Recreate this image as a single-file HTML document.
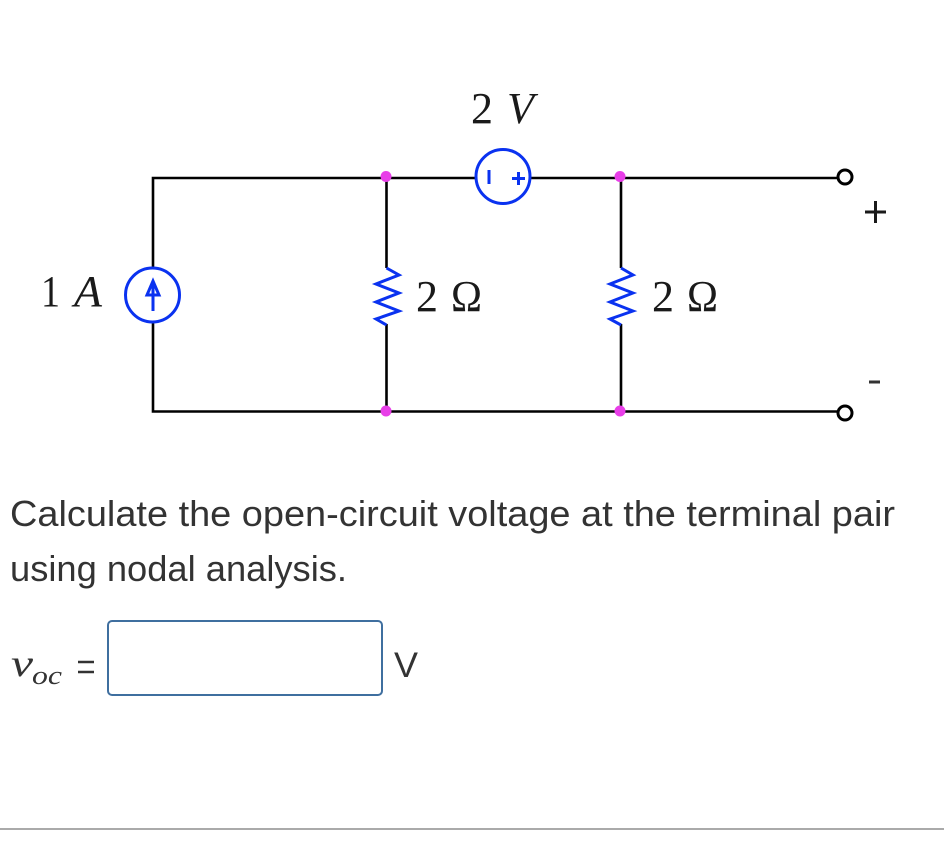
<!DOCTYPE html>
<html>
<head>
<meta charset="utf-8">
<style>
html,body{margin:0;padding:0;background:#fff;width:944px;height:868px;overflow:hidden}
svg{display:block}
.s{font-family:"Liberation Serif",serif;fill:#1a1a1a;font-size:44px}
.i{font-style:italic}
.t{font-family:"Liberation Sans",sans-serif;fill:#333;font-size:36px}
</style>
</head>
<body>
<svg width="944" height="868" viewBox="0 0 944 868" xmlns="http://www.w3.org/2000/svg">
<rect width="944" height="868" fill="#fff"/>
<g fill="none" stroke="#000" stroke-width="2.600">
<path d="M153 268V178H476M530 178H838"/>
<path d="M153 322V411.500H838"/>
<path d="M386.500 178V268M386.500 324V411"/>
<path d="M621 178V268M621 324V411"/>
<circle cx="845" cy="177" r="7" stroke-width="3"/>
<circle cx="845" cy="413" r="7" stroke-width="3"/>
</g>
<g fill="#e83ee8">
<circle cx="386" cy="176.500" r="5.500"/>
<circle cx="620" cy="176.500" r="5.500"/>
<circle cx="386" cy="411" r="5.500"/>
<circle cx="620" cy="411" r="5.500"/>
</g>
<g fill="none" stroke="#0a32f0" stroke-width="3">
<circle cx="152.500" cy="295" r="27"/>
<circle cx="503" cy="176.500" r="27"/>
<path d="M386.500 268L399 275L376 284L399 293L376 302L399 311L376 319L386.500 325"/>
<path d="M621 268L633 275L610 284L633 293L610 302L633 311L610 319L621 325"/>
<path d="M153 311V281M147 295L153 281L159 295Z"/>
<path d="M489 170V184M512 178.500H525M518.500 172V185"/>
</g>
<text class="s" x="471" y="123" textLength="22" lengthAdjust="spacingAndGlyphs">2</text>
<text class="s i" x="507" y="123" textLength="27" lengthAdjust="spacingAndGlyphs">V</text>
<text class="s" x="41" y="306" textLength="19" lengthAdjust="spacingAndGlyphs">1</text>
<text class="s i" x="74" y="306" textLength="28" lengthAdjust="spacingAndGlyphs">A</text>
<text class="s" x="416" y="311" textLength="22" lengthAdjust="spacingAndGlyphs">2</text>
<text class="s" x="451" y="311" textLength="31" lengthAdjust="spacingAndGlyphs">Ω</text>
<text class="s" x="652" y="311" textLength="22" lengthAdjust="spacingAndGlyphs">2</text>
<text class="s" x="687" y="311" textLength="31" lengthAdjust="spacingAndGlyphs">Ω</text>
<path d="M865 212H886M875.500 201V223" stroke="#1a1a1a" stroke-width="3" fill="none"/>
<path d="M869 382H880" stroke="#333" stroke-width="3" fill="none"/>
<text class="t" x="10" y="526" textLength="885" lengthAdjust="spacingAndGlyphs">Calculate the open-circuit voltage at the terminal pair</text>
<text class="t" x="10" y="581" textLength="337" lengthAdjust="spacingAndGlyphs">using nodal analysis.</text>
<text x="11" y="676" font-family="Liberation Serif, serif" font-style="italic" font-size="38" fill="#333" textLength="22" lengthAdjust="spacingAndGlyphs">v</text>
<text x="32" y="684" font-family="Liberation Serif, serif" font-style="italic" font-size="26" fill="#333" textLength="30" lengthAdjust="spacingAndGlyphs">oc</text>
<path d="M78 662H94M78 672H94" stroke="#333" stroke-width="2.600" fill="none"/>
<rect x="108" y="621" width="274" height="74" rx="4" ry="4" fill="#fff" stroke="#3f6f9f" stroke-width="2"/>
<text x="394" y="677" font-family="Liberation Sans, sans-serif" font-size="35" fill="#333" textLength="24" lengthAdjust="spacingAndGlyphs">V</text>
<rect x="0" y="828" width="944" height="2" fill="#aaa"/>
</svg>
</body>
</html>
